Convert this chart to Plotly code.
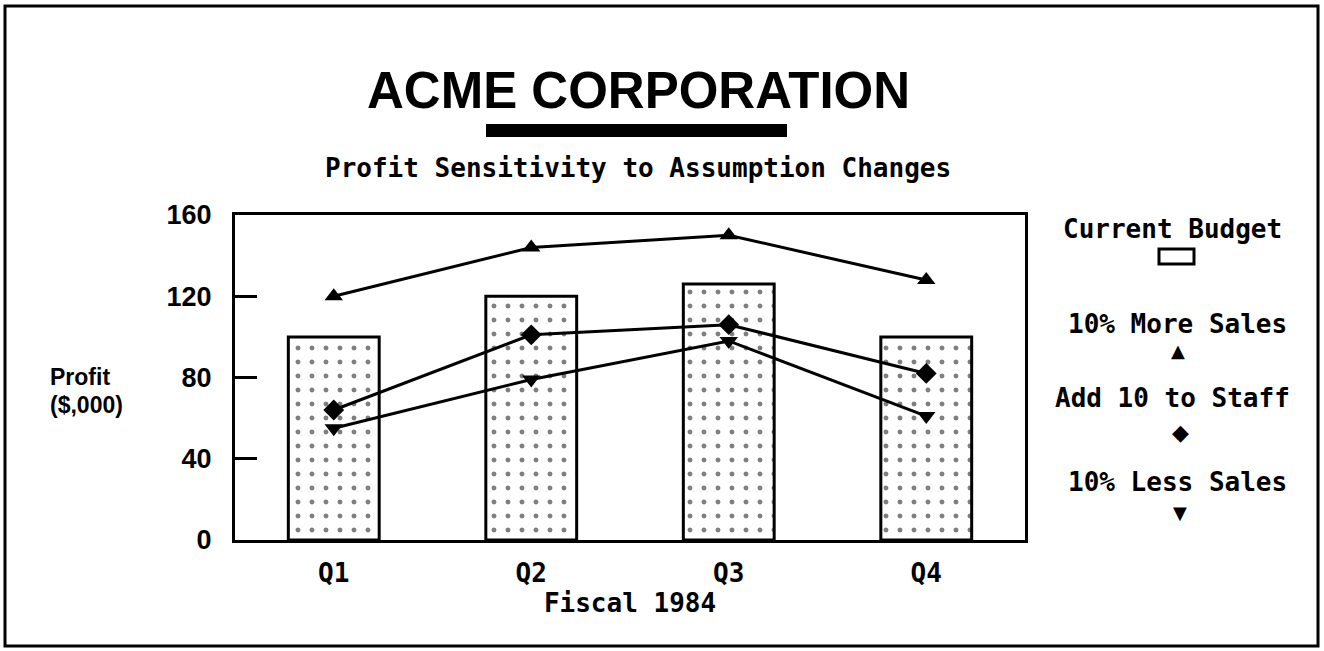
import plotly.graph_objects as go

quarters = ["Q1", "Q2", "Q3", "Q4"]
current_budget = [100, 120, 126, 100]
more_sales = [120, 144, 150, 128]
add_staff = [64, 101, 106, 82]
less_sales = [55, 79, 98, 61]
y_ticks = [0, 40, 80, 120, 160]

W, H = 1324, 651
L, R, T, B = 235, 1025, 215, 540
pw, ph = R - L, B - T

def px(x):
    return (x - L) / pw

def py(y):
    return (B - y) / ph

MONO = "DejaVu Sans Mono"
SANS = "Liberation Sans"

fig = go.Figure()
fig.add_trace(go.Bar(
    x=quarters, y=current_budget, width=0.46, name="Current Budget",
    marker=dict(color="white", line=dict(color="black", width=3),
                pattern=dict(shape=".", fgcolor="black", bgcolor="white",
                             size=14, solidity=0.1)),
))
for vals, sym, name in [(more_sales, "triangle-up", "10% More Sales"),
                        (add_staff, "diamond", "Add 10 to Staff"),
                        (less_sales, "triangle-down", "10% Less Sales")]:
    fig.add_trace(go.Scatter(
        x=quarters, y=vals, mode="lines+markers", name=name,
        line=dict(color="black", width=3),
        marker=dict(symbol=sym, size=16, color="black"),
    ))

fig.update_layout(
    width=W, height=H,
    margin=dict(l=L, r=W - R, t=T, b=H - B, pad=0),
    paper_bgcolor="white", plot_bgcolor="white",
    showlegend=False,
    font=dict(family=MONO, color="black"),
)
fig.update_xaxes(
    range=[-0.5, 3.5], showgrid=False, zeroline=False,
    showline=True, linecolor="black", linewidth=3, mirror=True,
    ticks="", tickfont=dict(family=MONO, size=26, weight="bold"),
    ticklabelstandoff=8,
    title=dict(text="<b>Fiscal 1984</b>", font=dict(family=MONO, size=26), standoff=6),
)
fig.update_yaxes(
    range=[0, 160], tickvals=y_ticks, showgrid=False, zeroline=False,
    showline=True, linecolor="black", linewidth=3, mirror=True,
    ticks="inside", ticklen=22, tickwidth=3, tickcolor="black",
    tickfont=dict(family=SANS, size=27, weight="bold"),
    ticklabelstandoff=15,
)

shapes = [
    # outer border
    dict(type="rect", xref="paper", yref="paper",
         x0=px(5), x1=px(1318), y0=py(646), y1=py(6),
         line=dict(color="black", width=3)),
    # title underline bar
    dict(type="rect", xref="paper", yref="paper",
         x0=px(486), x1=px(787), y0=py(137), y1=py(124),
         fillcolor="black", line=dict(width=0)),
    # legend box for Current Budget
    dict(type="rect", xref="paper", yref="paper",
         x0=px(1159), x1=px(1194), y0=py(264), y1=py(249),
         fillcolor="white", line=dict(color="black", width=3)),
]
fig.update_layout(shapes=shapes)

ann = [
    dict(text="<b>ACME CORPORATION</b>", x=px(638), y=py(90),
         font=dict(family=SANS, size=51)),
    dict(text="<b>Profit Sensitivity to Assumption Changes</b>", x=px(638), y=py(168),
         font=dict(family=MONO, size=26)),
    dict(text="<b>Profit</b>", x=px(80), y=py(377),
         font=dict(family=SANS, size=23)),
    dict(text="<b>($,000)</b>", x=px(86), y=py(405),
         font=dict(family=SANS, size=23)),
    dict(text="<b>Current Budget</b>", x=px(1172), y=py(229),
         font=dict(family=MONO, size=26)),
    dict(text="<b>10% More Sales</b>", x=px(1177), y=py(324),
         font=dict(family=MONO, size=26)),
    dict(text="▲", x=px(1178), y=py(350), font=dict(family="DejaVu Sans", size=18)),
    dict(text="<b>Add 10 to Staff</b>", x=px(1172), y=py(398),
         font=dict(family=MONO, size=26)),
    dict(text="◆", x=px(1180), y=py(432), font=dict(family="DejaVu Sans", size=22)),
    dict(text="<b>10% Less Sales</b>", x=px(1177), y=py(482),
         font=dict(family=MONO, size=26)),
    dict(text="▼", x=px(1180), y=py(512), font=dict(family="DejaVu Sans", size=18)),
]
for a in ann:
    a.update(xref="paper", yref="paper", showarrow=False,
             xanchor="center", yanchor="middle")
fig.update_layout(annotations=ann)

fig.write_html("out.html", config={"displayModeBar": False},
               post_script="document.body.style.margin='0';document.body.style.overflow='hidden';")
